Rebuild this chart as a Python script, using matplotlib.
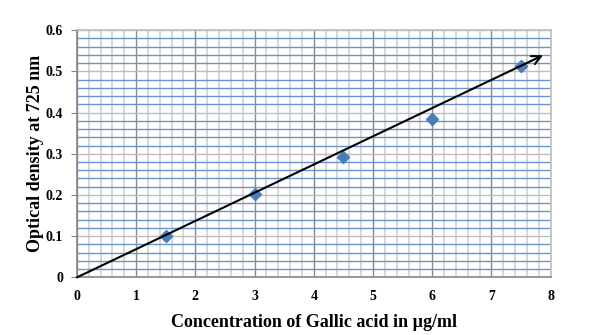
import numpy as np
import matplotlib.pyplot as plt
from matplotlib.ticker import MultipleLocator, FuncFormatter

# data
conc = [1.5, 3.0, 4.5, 6.0, 7.5]
od = [0.100, 0.203, 0.293, 0.385, 0.513]
trend_start = (0.0, 0.0)
trend_end = (7.87, 0.539)

plt.rcParams['font.family'] = ['Liberation Serif', 'DejaVu Serif']

fig = plt.figure(figsize=(5.96, 3.35), dpi=100)
ax = fig.add_axes([0.129, 0.172, 0.795, 0.738])

ax.set_xlim(0, 8)
ax.set_ylim(0, 0.6)
ax.xaxis.set_major_locator(MultipleLocator(1))
ax.xaxis.set_minor_locator(MultipleLocator(0.2))
ax.yaxis.set_major_locator(MultipleLocator(0.1))
ax.yaxis.set_minor_locator(MultipleLocator(0.02))
ax.yaxis.set_major_formatter(FuncFormatter(lambda v, p: '0' if abs(v) < 1e-9 else f'{v:.1f}'))

# grid: grey verticals, blue minor horizontals
ax.grid(which='minor', axis='x', color='#d4d4d4', lw=1.3)
ax.grid(which='major', axis='x', color='#8a8a8a', lw=1.0)
ax.grid(which='minor', axis='y', color='#6a95cc', lw=1.0)
ax.grid(which='major', axis='y', color='#bdbdbd', lw=1.0)
ax.set_axisbelow(True)

for s in ax.spines.values():
    s.set_color('#bdbdbd')
    s.set_linewidth(1.2)
ax.spines['left'].set_color('#868686')
ax.spines['bottom'].set_color('#868686')

ax.tick_params(which='minor', length=0)
ax.tick_params(axis='x', which='major', length=0, pad=9)
ax.tick_params(axis='y', which='major', length=4, color='#868686', pad=6)

for lab in ax.get_xticklabels() + ax.get_yticklabels():
    lab.set_fontweight('bold')
    lab.set_fontsize(10)

ax.scatter(conc, od, marker='D', s=38, color='#4a7ebb', zorder=3)

ax.annotate('', xy=trend_end, xytext=trend_start,
            arrowprops=dict(arrowstyle='->', color='black', lw=1.5,
                            mutation_scale=16, shrinkA=0, shrinkB=0),
            zorder=4)

ax.set_xlabel('Concentration of Gallic acid in µg/ml', fontsize=13,
              fontweight='bold', labelpad=8)
ax.set_ylabel('Optical density at 725 nm', fontsize=13,
              fontweight='bold', labelpad=1)

fig.savefig('out.png', dpi=100)
